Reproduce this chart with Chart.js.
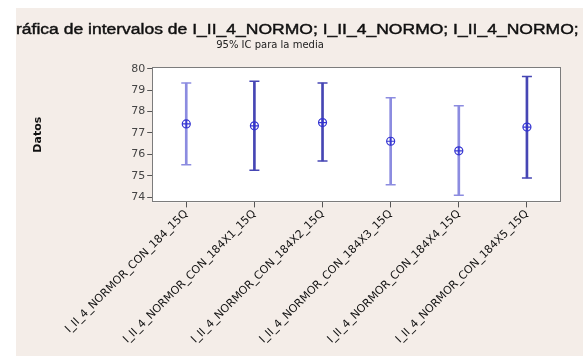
<!DOCTYPE html>
<html>
<head>
<meta charset="utf-8">
<script src="https://cdn.jsdelivr.net/npm/chart.js@4.4.1/dist/chart.umd.min.js"></script>
<style>
  html, body { margin: 0; padding: 0; background: #ffffff; }
  #wrap { width: 583px; height: 356px; }
</style>
</head>
<body>
<div id="wrap"><canvas id="c" width="583" height="356"></canvas></div>
<script>
// Interval plot: 95% confidence interval for the mean of each variable
const categories = [
  'I_II_4_NORMOR_CON_184_15Q',
  'I_II_4_NORMOR_CON_184X1_15Q',
  'I_II_4_NORMOR_CON_184X2_15Q',
  'I_II_4_NORMOR_CON_184X3_15Q',
  'I_II_4_NORMOR_CON_184X4_15Q',
  'I_II_4_NORMOR_CON_184X5_15Q'
];
const means = [77.42, 77.33, 77.48, 76.61, 76.16, 77.27];
const lower = [75.51, 75.25, 75.69, 74.58, 74.08, 74.89];
const upper = [79.33, 79.41, 79.33, 78.64, 78.27, 79.64];
const yTicks = [74, 75, 76, 77, 78, 79, 80];

const titleText = 'Gráfica de intervalos de I_II_4_NORMO; I_II_4_NORMO; I_II_4_NORMO; I_II_4_NORMO; I_II_4_NORMO; I_II_4_NORMO';
const subtitleText = '95% IC para la media';

const BEIGE = '#f4ede8';
const whiskerColors = ['#8c8ce0', '#4646b4', '#4646b4', '#8c8ce0', '#8c8ce0', '#4646b4'];
const markerColor = '#3434d2';

const frame = {
  id: 'frame',
  beforeDraw(chart) {
    const { ctx, width, height, chartArea: a } = chart;
    ctx.save();
    ctx.fillStyle = '#ffffff';
    ctx.fillRect(0, 0, width, height);
    ctx.fillStyle = BEIGE;
    ctx.fillRect(16, 8, width - 16, height - 8);
    ctx.fillStyle = '#ffffff';
    ctx.fillRect(a.left, a.top, a.right - a.left, a.bottom - a.top);
    ctx.restore();
  },
  afterDatasetsDraw(chart) {
    const { ctx, chartArea: a } = chart;
    ctx.save();
    ctx.strokeStyle = '#7c7c7c';
    ctx.lineWidth = 1;
    ctx.strokeRect(Math.round(a.left) + 0.5, Math.round(a.top) + 0.5,
                   Math.round(a.right - a.left) - 1, Math.round(a.bottom - a.top) - 1);
    ctx.restore();
  },
  afterDraw(chart) {
    const { ctx, width } = chart;
    ctx.save();
    ctx.beginPath();
    ctx.rect(16, 8, width - 16, 50);
    ctx.clip();
    // main title, slightly widened face, cut at the frame edge
    ctx.fillStyle = '#111111';
    ctx.strokeStyle = '#111111';
    ctx.lineWidth = 0.45;
    ctx.font = '15.5px "Liberation Sans"';
    ctx.textAlign = 'left';
    ctx.textBaseline = 'alphabetic';
    const sx = 1.13;
    const gw = ctx.measureText('G').width * sx;
    ctx.save();
    ctx.translate(16 - gw, 34);
    ctx.scale(sx, 1);
    ctx.fillText(titleText, 0, 0);
    ctx.strokeText(titleText, 0, 0);
    ctx.restore();
    ctx.font = '10px "DejaVu Sans"';
    ctx.textAlign = 'center';
    ctx.fillStyle = '#222222';
    ctx.fillText(subtitleText, 270, 48);
    ctx.restore();
  }
};

new Chart(document.getElementById('c'), {
  type: 'bar',
  data: {
    labels: categories,
    datasets: [
      {
        type: 'line', label: 'media', data: means, showLine: false,
        pointStyle: 'circle', pointRadius: 4, borderWidth: 1.2,
        pointBorderColor: markerColor, pointBackgroundColor: 'rgba(0,0,0,0)', order: 0
      },
      {
        type: 'line', label: 'media+', data: means, showLine: false,
        pointStyle: 'cross', pointRadius: 4, borderWidth: 1.2,
        pointBorderColor: markerColor, order: 0
      },
      {
        type: 'line', label: 'superior', data: upper, showLine: false,
        pointStyle: 'line', pointRadius: 5, borderWidth: 1.5,
        pointBorderColor: whiskerColors, order: 1
      },
      {
        type: 'line', label: 'inferior', data: lower, showLine: false,
        pointStyle: 'line', pointRadius: 5, borderWidth: 1.5,
        pointBorderColor: whiskerColors, order: 1
      },
      {
        type: 'bar', label: 'IC', data: lower.map((l, i) => [l, upper[i]]),
        backgroundColor: whiskerColors, barThickness: 2, borderWidth: 0, order: 2
      }
    ]
  },
  options: {
    responsive: false,
    animation: false,
    events: [],
    layout: { padding: { top: 0, right: 22, bottom: 10, left: 0 } },
    plugins: {
      legend: { display: false },
      tooltip: { enabled: false },
      // empty header band; the heading text itself is painted by the frame plugin
      title: {
        display: true, text: ' ',
        font: { size: 10, lineHeight: 0.8 },
        padding: { top: 59, bottom: 0 }
      }
    },
    scales: {
      x: {
        type: 'category',
        offset: true,
        grid: { drawOnChartArea: false, offset: false, drawTicks: true, tickLength: 5, color: '#555555' },
        border: { display: false },
        ticks: {
          minRotation: 45, maxRotation: 45, padding: 0,
          color: '#111111', font: { family: '"DejaVu Sans"', size: 11 }
        }
      },
      y: {
        min: 73.75, max: 80.08,
        afterBuildTicks(scale) { scale.ticks = yTicks.map(v => ({ value: v })); },
        grid: { drawOnChartArea: false, drawTicks: true, tickLength: 5, color: '#555555' },
        border: { display: false },
        ticks: { padding: 2, color: '#444444', font: { family: '"DejaVu Sans"', size: 11 } },
        title: {
          display: true, text: 'Datos', color: '#111111',
          font: { family: '"DejaVu Sans"', size: 11, weight: 'bold' },
          padding: { top: 32, bottom: 84 }
        }
      }
    }
  },
  plugins: [frame]
});
</script>
</body>
</html>
